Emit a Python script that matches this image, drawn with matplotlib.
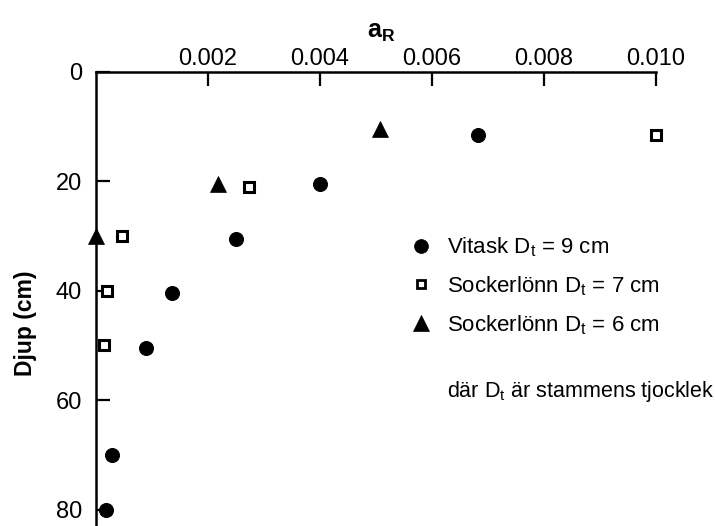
import matplotlib
matplotlib.use("Agg")
import matplotlib.pyplot as plt
from matplotlib.lines import Line2D

plt.rcParams['font.family'] = ['Liberation Sans', 'DejaVu Sans']
plt.rcParams['mathtext.fontset'] = 'custom'
plt.rcParams['mathtext.rm'] = 'Liberation Sans'
plt.rcParams['mathtext.it'] = 'Liberation Sans'
plt.rcParams['mathtext.bf'] = 'Liberation Sans:bold'

# Data
vitask_a = [0.00683, 0.0040, 0.0025, 0.00136, 0.0009, 0.00028, 0.00017]
vitask_d = [11.5, 20.5, 30.5, 40.5, 50.5, 70, 80]
sock7_a = [0.0100, 0.00274, 0.00047, 0.0002, 0.00014]
sock7_d = [11.5, 21, 30, 40, 50]
sock6_a = [0.00507, 0.00218, 0.0]
sock6_d = [10.5, 20.5, 30]

x_ticks = [0.002, 0.004, 0.006, 0.008, 0.010]
x_ticklabels = ["0.002", "0.004", "0.006", "0.008", "0.010"]
y_ticks = [0, 20, 40, 60, 80]

labels = ["Vitask $\\mathregular{D_t}$ = 9 cm",
          "Sockerlönn $\\mathregular{D_t}$ = 7 cm",
          "Sockerlönn $\\mathregular{D_t}$ = 6 cm"]
note = "där $\\mathregular{D_t}$ är stammens tjocklek"

fig = plt.figure(figsize=(7.15, 5.26), dpi=100)
ax = fig.add_axes([0.1343, 0.0, 0.7832, 0.8637])

ax.plot(vitask_a, vitask_d, 'o', color='black', ms=10, mew=0.8, clip_on=False, zorder=3)
ax.plot(sock7_a, sock7_d, 's', mfc='white', mec='black', mew=2.2, ms=7.4, clip_on=False, zorder=3)
ax.plot(sock6_a, sock6_d, '^', color='black', ms=11, mew=0.5, clip_on=False, zorder=4)

ax.set_xlim(0, 0.010)
ax.set_ylim(83, 0)

for s in ['bottom', 'right']:
    ax.spines[s].set_visible(False)
for s in ['top', 'left']:
    ax.spines[s].set_linewidth(1.8)

ax.xaxis.tick_top()
ax.set_xticks(x_ticks)
ax.set_xticklabels(x_ticklabels)
ax.set_yticks(y_ticks)
ax.tick_params(axis='both', direction='in', length=10, width=1.6, labelsize=17)
ax.tick_params(axis='x', pad=1.5)
ax.tick_params(axis='y', pad=10)

ax.text(0.51, 1.075, "$\\mathbf{a}_\\mathbf{R}$", transform=ax.transAxes,
        fontsize=18, ha='center', va='baseline')
ax.set_ylabel("Djup (cm)", fontsize=16.5, fontweight='bold')
ax.yaxis.set_label_coords(-0.105, 0.447)

handles = [
    Line2D([], [], linestyle='none', marker='o', color='black', ms=10, mew=0.5),
    Line2D([], [], linestyle='none', marker='s', mfc='white', mec='black', mew=2.0, ms=6),
    Line2D([], [], linestyle='none', marker='^', color='black', ms=11, mew=0.5),
]
leg = ax.legend(handles, labels, loc='upper left', bbox_to_anchor=(410 / 715, 1 - 235.5 / 526),
                bbox_transform=fig.transFigure,
                frameon=False, fontsize=16, handletextpad=0.65, labelspacing=0.68,
                handlelength=1.0, borderaxespad=0, borderpad=0)

fig.text(447 / 715, 1 - 397 / 526, note, fontsize=15.5, ha='left', va='baseline')

fig.savefig("out.png", dpi=100)
